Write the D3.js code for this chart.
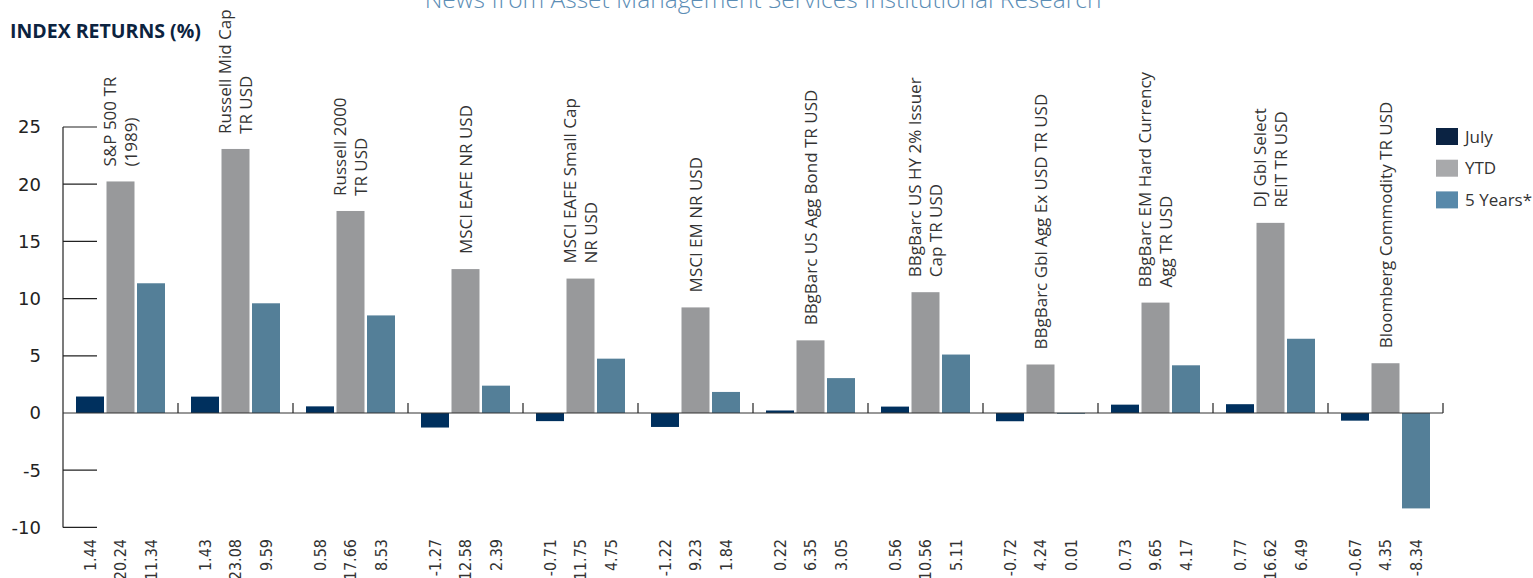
<!DOCTYPE html>
<html>
<head>
<meta charset="utf-8">
<script src="https://cdn.jsdelivr.net/npm/d3@7"></script>
<style>
  html, body { margin: 0; padding: 0; background: #fff; }
  svg { display: block; }
</style>
</head>
<body>
<div id="chart"></div>
<script>
/* global d3 */

// data
const categories = [
  'S&P 500 TR (1989)',
  'Russell Mid Cap TR USD',
  'Russell 2000 TR USD',
  'MSCI EAFE NR USD',
  'MSCI EAFE Small Cap NR USD',
  'MSCI EM NR USD',
  'BBgBarc US Agg Bond TR USD',
  'BBgBarc US HY 2% Issuer Cap TR USD',
  'BBgBarc Gbl Agg Ex USD TR USD',
  'BBgBarc EM Hard Currency Agg TR USD',
  'DJ Gbl Select REIT TR USD',
  'Bloomberg Commodity TR USD',
];

// how each category name wraps
const categoryLines = [
  ['S&P 500 TR', '(1989)'],
  ['Russell Mid Cap', 'TR USD'],
  ['Russell 2000', 'TR USD'],
  ['MSCI EAFE NR USD'],
  ['MSCI EAFE Small Cap', 'NR USD'],
  ['MSCI EM NR USD'],
  ['BBgBarc US Agg Bond TR USD'],
  ['BBgBarc US HY 2% Issuer', 'Cap TR USD'],
  ['BBgBarc Gbl Agg Ex USD TR USD'],
  ['BBgBarc EM Hard Currency', 'Agg TR USD'],
  ['DJ Gbl Select', 'REIT TR USD'],
  ['Bloomberg Commodity TR USD'],
];

const series = ['July', 'YTD', '5 Years*'];

const july = [1.44, 1.43, 0.58, -1.27, -0.71, -1.22, 0.22, 0.56, -0.72, 0.73, 0.77, -0.67];
const ytd = [20.24, 23.08, 17.66, 12.58, 11.75, 9.23, 6.35, 10.56, 4.24, 9.65, 16.62, 4.35];
const fiveYears = [11.34, 9.59, 8.53, 2.39, 4.75, 1.84, 3.05, 5.11, 0.01, 4.17, 6.49, -8.34];

const yTicks = [25, 20, 15, 10, 5, 0, -5, -10];

const barColors = ['#00305e', '#98999b', '#547f98'];
const legendColors = ['#0b2343', '#a8a9ab', '#5889aa'];

// dimensions
const WIDTH = 1533;
const HEIGHT = 578;
const axisLeft = 63;
const axisRight = 1443;
const BODY_FONT = '"Open Sans", "Noto Sans", sans-serif';
const NUM_FONT = '"DejaVu Sans", sans-serif';

const rows = categories.map((c, i) => ({
  key: c,
  lines: categoryLines[i],
  values: [july[i], ytd[i], fiveYears[i]].map((v, j) => ({ series: series[j], value: v, idx: j })),
}));

// scales
const scaleX0 = d3.scaleBand().domain(categories).range([axisLeft, axisRight]);
const scaleX1 = d3.scaleBand().domain(series).range([13, 102]).paddingInner(0.082);
const scaleY = d3.scaleLinear().domain([-10, 25]).range([527.4, 127]);
const color = d3.scaleOrdinal().domain(series).range(barColors);

const $svg = d3
  .select('#chart')
  .append('svg')
  .attr('width', WIDTH)
  .attr('height', HEIGHT);

// header text
$svg
  .append('text')
  .attr('x', 763)
  .attr('y', 8)
  .attr('text-anchor', 'middle')
  .style('font-family', BODY_FONT)
  .style('font-weight', 300)
  .style('font-size', '24.5px')
  .style('fill', '#5b8db5')
  .text('News from Asset Management Services Institutional Research');

$svg
  .append('text')
  .attr('x', 10)
  .attr('y', 38)
  .style('font-family', BODY_FONT)
  .style('font-weight', 700)
  .style('font-size', '19.5px')
  .style('fill', '#0c2340')
  .text('INDEX RETURNS (%)');

// y axis
const $axisY = $svg.append('g').attr('class', 'axis--y');

$axisY
  .append('line')
  .attr('x1', axisLeft)
  .attr('x2', axisLeft)
  .attr('y1', scaleY(25))
  .attr('y2', scaleY(-10))
  .attr('stroke', '#5a5a5a')
  .attr('stroke-width', 1.6);

$axisY
  .selectAll('.tick-line')
  .data(yTicks.filter(d => d !== 0))
  .join('line')
  .attr('class', 'tick-line')
  .attr('x1', axisLeft)
  .attr('x2', axisLeft + 34)
  .attr('y1', d => scaleY(d))
  .attr('y2', d => scaleY(d))
  .attr('stroke', '#222')
  .attr('stroke-width', 1.2);

$axisY
  .selectAll('.tick-label')
  .data(yTicks)
  .join('text')
  .attr('class', 'tick-label')
  .attr('x', 41)
  .attr('y', d => scaleY(d))
  .attr('dy', '0.36em')
  .attr('text-anchor', 'end')
  .style('font-family', NUM_FONT)
  .style('font-size', '18px')
  .style('fill', '#222')
  .text(d => d);

// bars
const $vis = $svg.append('g').attr('class', 'g-vis');

const $group = $vis
  .selectAll('.group')
  .data(rows, d => d.key)
  .join('g')
  .attr('class', 'group')
  .attr('transform', d => `translate(${scaleX0(d.key)}, 0)`);

$group
  .selectAll('rect')
  .data(d => d.values)
  .join('rect')
  .attr('x', d => scaleX1(d.series))
  .attr('width', scaleX1.bandwidth())
  .attr('y', d => scaleY(Math.max(0, d.value)))
  .attr('height', d => Math.max(1, Math.abs(scaleY(d.value) - scaleY(0))))
  .attr('fill', d => color(d.series));

// value labels under the plot (plain hyphen for negatives)
$group
  .selectAll('.value')
  .data(d => d.values)
  .join('text')
  .attr('class', 'value')
  .attr('transform', d => `translate(${scaleX1(d.series) + scaleX1.bandwidth() / 2}, 539) rotate(-90)`)
  .attr('dy', '0.36em')
  .attr('text-anchor', 'end')
  .style('font-family', NUM_FONT)
  .style('font-stretch', 'condensed')
  .style('font-size', '16px')
  .style('fill', '#333')
  .text(d => d.value.toFixed(2));

// category labels above the tallest bar
$group.each(function addLabel(d) {
  const top = scaleY(d3.max(d.values, v => v.value)) - 15;
  const cx = scaleX0.bandwidth() / 2;
  const n = d.lines.length;
  const lineH = 21;
  d3.select(this)
    .selectAll('.cat')
    .data(d.lines)
    .join('text')
    .attr('class', 'cat')
    .attr('transform', (l, i) => `translate(${cx + (i - (n - 1) / 2) * lineH}, ${top}) rotate(-90)`)
    .attr('dy', '0.36em')
    .attr('text-anchor', 'start')
    .style('font-family', BODY_FONT)
    .style('font-size', '17px')
    .style('fill', '#333')
    .text(l => l);
});

// x axis
const $axisX = $svg.append('g').attr('class', 'axis--x');

$axisX
  .append('line')
  .attr('x1', axisLeft)
  .attr('x2', axisRight)
  .attr('y1', scaleY(0))
  .attr('y2', scaleY(0))
  .attr('stroke', '#333')
  .attr('stroke-width', 1.2);

$axisX
  .selectAll('.tick')
  .data(categories)
  .join('line')
  .attr('class', 'tick')
  .attr('x1', d => scaleX0(d) + scaleX0.bandwidth())
  .attr('x2', d => scaleX0(d) + scaleX0.bandwidth())
  .attr('y1', scaleY(0))
  .attr('y2', scaleY(0) - 10)
  .attr('stroke', '#222')
  .attr('stroke-width', 1.2);

// legend
const $legend = $svg.append('g').attr('transform', 'translate(1436, 128)');

const $item = $legend
  .selectAll('.item')
  .data(series)
  .join('g')
  .attr('class', 'item')
  .attr('transform', (d, i) => `translate(0, ${i * 31.7})`);

$item
  .append('rect')
  .attr('width', 22)
  .attr('height', 17)
  .attr('fill', (d, i) => legendColors[i]);

$item
  .append('text')
  .attr('x', 29)
  .attr('y', 8.5)
  .attr('dy', '0.36em')
  .style('font-family', BODY_FONT)
  .style('font-size', '17px')
  .style('fill', '#333')
  .text(d => d);
</script>
</body>
</html>
